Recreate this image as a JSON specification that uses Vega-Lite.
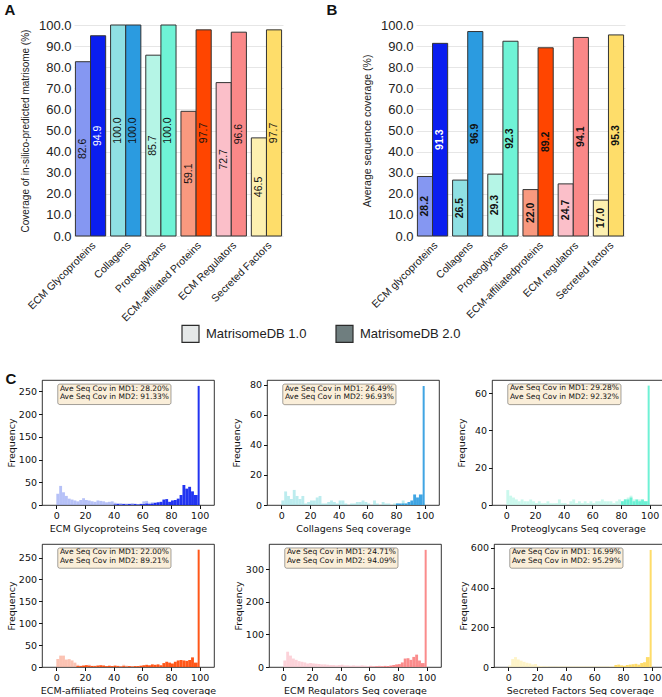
{
"$schema":"https://vega.github.io/schema/vega-lite/v6.json",
"background":"white",
"padding":{"left":4,"top":3,"right":2,"bottom":0},
"spacing":0,
"resolve":{"scale":{"fill":"independent","color":"independent"}},
"config":{"view":{"stroke":null}},
"datasets":{
"A":[
{"cat":"ECM Glycoproteins","ver":"MatrisomeDB 1.0","key":"g1","v":82.6},
{"cat":"ECM Glycoproteins","ver":"MatrisomeDB 2.0","key":"g2","v":94.9},
{"cat":"Collagens","ver":"MatrisomeDB 1.0","key":"c1","v":100.0},
{"cat":"Collagens","ver":"MatrisomeDB 2.0","key":"c2","v":100.0},
{"cat":"Proteoglycans","ver":"MatrisomeDB 1.0","key":"p1","v":85.7},
{"cat":"Proteoglycans","ver":"MatrisomeDB 2.0","key":"p2","v":100.0},
{"cat":"ECM-affiliated Proteins","ver":"MatrisomeDB 1.0","key":"a1","v":59.1},
{"cat":"ECM-affiliated Proteins","ver":"MatrisomeDB 2.0","key":"a2","v":97.7},
{"cat":"ECM Regulators","ver":"MatrisomeDB 1.0","key":"r1","v":72.7},
{"cat":"ECM Regulators","ver":"MatrisomeDB 2.0","key":"r2","v":96.6},
{"cat":"Secreted Factors","ver":"MatrisomeDB 1.0","key":"s1","v":46.5},
{"cat":"Secreted Factors","ver":"MatrisomeDB 2.0","key":"s2","v":97.7}
],
"B":[
{"cat":"ECM glycoproteins","ver":"MatrisomeDB 1.0","key":"g1","v":28.2},
{"cat":"ECM glycoproteins","ver":"MatrisomeDB 2.0","key":"g2","v":91.3},
{"cat":"Collagens","ver":"MatrisomeDB 1.0","key":"c1","v":26.5},
{"cat":"Collagens","ver":"MatrisomeDB 2.0","key":"c2","v":96.9},
{"cat":"Proteoglycans","ver":"MatrisomeDB 1.0","key":"p1","v":29.3},
{"cat":"Proteoglycans","ver":"MatrisomeDB 2.0","key":"p2","v":92.3},
{"cat":"ECM-affiliatedproteins","ver":"MatrisomeDB 1.0","key":"a1","v":22.0},
{"cat":"ECM-affiliatedproteins","ver":"MatrisomeDB 2.0","key":"a2","v":89.2},
{"cat":"ECM regulators","ver":"MatrisomeDB 1.0","key":"r1","v":24.7},
{"cat":"ECM regulators","ver":"MatrisomeDB 2.0","key":"r2","v":94.1},
{"cat":"Secreted factors","ver":"MatrisomeDB 1.0","key":"s1","v":17.0},
{"cat":"Secreted factors","ver":"MatrisomeDB 2.0","key":"s2","v":95.3}
],
"notes":[
{"p":1,"t":"Ave Seq Cov in MD1: 28.20%\nAve Seq Cov in MD2: 91.33%"},
{"p":2,"t":"Ave Seq Cov in MD1: 26.49%\nAve Seq Cov in MD2: 96.93%"},
{"p":3,"t":"Ave Seq Cov in MD1: 29.28%\nAve Seq Cov in MD2: 92.32%"},
{"p":4,"t":"Ave Seq Cov in MD1: 22.00%\nAve Seq Cov in MD2: 89.21%"},
{"p":5,"t":"Ave Seq Cov in MD1: 24.71%\nAve Seq Cov in MD2: 94.09%"},
{"p":6,"t":"Ave Seq Cov in MD1: 16.99%\nAve Seq Cov in MD2: 95.29%"}
],
"hist":[
{"p":1,"b":0,"e":2,"m1":25,"m2":0},{"p":1,"b":2,"e":4,"m1":42,"m2":0},{"p":1,"b":4,"e":6,"m1":28,"m2":0},{"p":1,"b":6,"e":8,"m1":20,"m2":0},{"p":1,"b":8,"e":10,"m1":14,"m2":0},{"p":1,"b":10,"e":12,"m1":12,"m2":0},{"p":1,"b":12,"e":14,"m1":10,"m2":0},{"p":1,"b":14,"e":16,"m1":8,"m2":0},{"p":1,"b":16,"e":18,"m1":11,"m2":0},{"p":1,"b":18,"e":20,"m1":15,"m2":0},{"p":1,"b":20,"e":22,"m1":11,"m2":0},{"p":1,"b":22,"e":24,"m1":10,"m2":0},{"p":1,"b":24,"e":26,"m1":8,"m2":0},{"p":1,"b":26,"e":28,"m1":7,"m2":0},{"p":1,"b":28,"e":30,"m1":10,"m2":0},{"p":1,"b":30,"e":32,"m1":9,"m2":0},{"p":1,"b":32,"e":34,"m1":8,"m2":0},{"p":1,"b":34,"e":36,"m1":6,"m2":0},{"p":1,"b":36,"e":38,"m1":7,"m2":0},{"p":1,"b":38,"e":40,"m1":8,"m2":0},{"p":1,"b":40,"e":42,"m1":5,"m2":1},{"p":1,"b":42,"e":44,"m1":4,"m2":2},{"p":1,"b":44,"e":46,"m1":4,"m2":1},{"p":1,"b":46,"e":48,"m1":3,"m2":2},{"p":1,"b":48,"e":50,"m1":3,"m2":1},{"p":1,"b":50,"e":52,"m1":3,"m2":2},{"p":1,"b":52,"e":54,"m1":4,"m2":1},{"p":1,"b":54,"e":56,"m1":3,"m2":2},{"p":1,"b":56,"e":58,"m1":2,"m2":1},{"p":1,"b":58,"e":60,"m1":3,"m2":2},{"p":1,"b":60,"e":62,"m1":8,"m2":2},{"p":1,"b":62,"e":64,"m1":9,"m2":3},{"p":1,"b":64,"e":66,"m1":5,"m2":2},{"p":1,"b":66,"e":68,"m1":6,"m2":3},{"p":1,"b":68,"e":70,"m1":4,"m2":5},{"p":1,"b":70,"e":72,"m1":4,"m2":6},{"p":1,"b":72,"e":74,"m1":3,"m2":7},{"p":1,"b":74,"e":76,"m1":3,"m2":12},{"p":1,"b":76,"e":78,"m1":3,"m2":13},{"p":1,"b":78,"e":80,"m1":2,"m2":7},{"p":1,"b":80,"e":82,"m1":2,"m2":10},{"p":1,"b":82,"e":84,"m1":2,"m2":11},{"p":1,"b":84,"e":86,"m1":2,"m2":14},{"p":1,"b":86,"e":88,"m1":2,"m2":22},{"p":1,"b":88,"e":90,"m1":2,"m2":44},{"p":1,"b":90,"e":92,"m1":2,"m2":36},{"p":1,"b":92,"e":94,"m1":2,"m2":40},{"p":1,"b":94,"e":96,"m1":2,"m2":30},{"p":1,"b":96,"e":98.6,"m1":2,"m2":22},{"p":1,"b":98.6,"e":100,"m1":3,"m2":262},
{"p":2,"b":0,"e":2,"m1":3,"m2":0},{"p":2,"b":2,"e":4,"m1":9,"m2":0},{"p":2,"b":4,"e":6,"m1":6,"m2":0},{"p":2,"b":6,"e":8,"m1":4,"m2":0},{"p":2,"b":8,"e":10,"m1":10,"m2":0},{"p":2,"b":10,"e":12,"m1":6,"m2":0},{"p":2,"b":12,"e":14,"m1":4,"m2":0},{"p":2,"b":14,"e":16,"m1":6,"m2":0},{"p":2,"b":16,"e":18,"m1":1,"m2":0},{"p":2,"b":18,"e":20,"m1":2,"m2":0},{"p":2,"b":20,"e":22,"m1":3,"m2":0},{"p":2,"b":22,"e":24,"m1":3,"m2":0},{"p":2,"b":24,"e":26,"m1":5,"m2":0},{"p":2,"b":26,"e":28,"m1":6,"m2":0},{"p":2,"b":28,"e":30,"m1":1,"m2":0},{"p":2,"b":30,"e":32,"m1":1,"m2":0},{"p":2,"b":32,"e":34,"m1":2,"m2":0},{"p":2,"b":34,"e":36,"m1":3,"m2":0},{"p":2,"b":36,"e":38,"m1":2,"m2":0},{"p":2,"b":38,"e":40,"m1":1,"m2":0},{"p":2,"b":40,"e":42,"m1":3,"m2":0},{"p":2,"b":42,"e":44,"m1":3,"m2":0},{"p":2,"b":44,"e":46,"m1":1,"m2":0},{"p":2,"b":48,"e":50,"m1":1,"m2":0},{"p":2,"b":50,"e":52,"m1":1,"m2":0},{"p":2,"b":52,"e":54,"m1":2,"m2":0},{"p":2,"b":54,"e":56,"m1":2,"m2":0},{"p":2,"b":56,"e":58,"m1":3,"m2":0},{"p":2,"b":58,"e":60,"m1":2,"m2":0},{"p":2,"b":60,"e":62,"m1":1,"m2":0},{"p":2,"b":64,"e":66,"m1":3,"m2":0},{"p":2,"b":66,"e":68,"m1":1,"m2":0},{"p":2,"b":70,"e":72,"m1":2,"m2":0},{"p":2,"b":72,"e":74,"m1":1,"m2":0},{"p":2,"b":74,"e":76,"m1":1,"m2":0},{"p":2,"b":78,"e":80,"m1":1,"m2":0},{"p":2,"b":80,"e":82,"m1":1,"m2":1},{"p":2,"b":82,"e":84,"m1":0,"m2":1},{"p":2,"b":84,"e":86,"m1":3,"m2":1},{"p":2,"b":86,"e":88,"m1":1,"m2":1},{"p":2,"b":88,"e":90,"m1":0,"m2":2},{"p":2,"b":90,"e":92,"m1":1,"m2":3},{"p":2,"b":92,"e":94,"m1":1,"m2":7},{"p":2,"b":94,"e":96,"m1":0,"m2":5},{"p":2,"b":96,"e":98.6,"m1":0,"m2":7},{"p":2,"b":98.6,"e":100,"m1":1,"m2":79},
{"p":3,"b":0,"e":2,"m1":8,"m2":0},{"p":3,"b":2,"e":4,"m1":5,"m2":0},{"p":3,"b":4,"e":6,"m1":4,"m2":0},{"p":3,"b":6,"e":8,"m1":3,"m2":0},{"p":3,"b":8,"e":10,"m1":2,"m2":0},{"p":3,"b":10,"e":12,"m1":3,"m2":0},{"p":3,"b":12,"e":14,"m1":2,"m2":0},{"p":3,"b":14,"e":16,"m1":2,"m2":0},{"p":3,"b":16,"e":18,"m1":3,"m2":0},{"p":3,"b":18,"e":20,"m1":2,"m2":0},{"p":3,"b":20,"e":22,"m1":1,"m2":0},{"p":3,"b":22,"e":24,"m1":2,"m2":0},{"p":3,"b":24,"e":26,"m1":1,"m2":0},{"p":3,"b":26,"e":28,"m1":1,"m2":0},{"p":3,"b":28,"e":30,"m1":2,"m2":0},{"p":3,"b":30,"e":32,"m1":1,"m2":0},{"p":3,"b":32,"e":34,"m1":1,"m2":0},{"p":3,"b":34,"e":36,"m1":1,"m2":0},{"p":3,"b":36,"e":38,"m1":3,"m2":0},{"p":3,"b":38,"e":40,"m1":1,"m2":0},{"p":3,"b":40,"e":42,"m1":1,"m2":0},{"p":3,"b":44,"e":46,"m1":2,"m2":0},{"p":3,"b":46,"e":48,"m1":3,"m2":0},{"p":3,"b":48,"e":50,"m1":1,"m2":0},{"p":3,"b":50,"e":52,"m1":2,"m2":0},{"p":3,"b":52,"e":54,"m1":1,"m2":0},{"p":3,"b":54,"e":56,"m1":2,"m2":0},{"p":3,"b":56,"e":58,"m1":1,"m2":0},{"p":3,"b":58,"e":60,"m1":2,"m2":0},{"p":3,"b":60,"e":62,"m1":1,"m2":0},{"p":3,"b":62,"e":64,"m1":2,"m2":0},{"p":3,"b":64,"e":66,"m1":2,"m2":0},{"p":3,"b":66,"e":68,"m1":3,"m2":0},{"p":3,"b":68,"e":70,"m1":2,"m2":0},{"p":3,"b":70,"e":72,"m1":2,"m2":0},{"p":3,"b":72,"e":74,"m1":2,"m2":0},{"p":3,"b":74,"e":76,"m1":1,"m2":0},{"p":3,"b":76,"e":78,"m1":2,"m2":0},{"p":3,"b":78,"e":80,"m1":3,"m2":0},{"p":3,"b":80,"e":82,"m1":2,"m2":2},{"p":3,"b":82,"e":84,"m1":3,"m2":3},{"p":3,"b":84,"e":86,"m1":4,"m2":3},{"p":3,"b":86,"e":88,"m1":5,"m2":4},{"p":3,"b":88,"e":90,"m1":3,"m2":2},{"p":3,"b":90,"e":92,"m1":2,"m2":3},{"p":3,"b":92,"e":94,"m1":3,"m2":2},{"p":3,"b":94,"e":96,"m1":2,"m2":3},{"p":3,"b":96,"e":98.6,"m1":2,"m2":2},{"p":3,"b":98.6,"e":100,"m1":1,"m2":64},
{"p":4,"b":0,"e":2,"m1":18,"m2":0},{"p":4,"b":2,"e":4,"m1":26,"m2":0},{"p":4,"b":4,"e":6,"m1":26,"m2":0},{"p":4,"b":6,"e":8,"m1":17,"m2":0},{"p":4,"b":8,"e":10,"m1":18,"m2":0},{"p":4,"b":10,"e":12,"m1":15,"m2":0},{"p":4,"b":12,"e":14,"m1":10,"m2":0},{"p":4,"b":14,"e":16,"m1":5,"m2":2},{"p":4,"b":16,"e":18,"m1":3,"m2":2},{"p":4,"b":18,"e":20,"m1":4,"m2":3},{"p":4,"b":20,"e":22,"m1":4,"m2":4},{"p":4,"b":22,"e":24,"m1":5,"m2":3},{"p":4,"b":24,"e":26,"m1":3,"m2":2},{"p":4,"b":26,"e":28,"m1":3,"m2":2},{"p":4,"b":28,"e":30,"m1":4,"m2":3},{"p":4,"b":30,"e":32,"m1":3,"m2":4},{"p":4,"b":32,"e":34,"m1":4,"m2":3},{"p":4,"b":34,"e":36,"m1":2,"m2":2},{"p":4,"b":36,"e":38,"m1":2,"m2":3},{"p":4,"b":38,"e":40,"m1":2,"m2":2},{"p":4,"b":40,"e":42,"m1":3,"m2":3},{"p":4,"b":42,"e":44,"m1":3,"m2":2},{"p":4,"b":44,"e":46,"m1":2,"m2":1},{"p":4,"b":46,"e":48,"m1":5,"m2":2},{"p":4,"b":48,"e":50,"m1":3,"m2":1},{"p":4,"b":50,"e":52,"m1":2,"m2":2},{"p":4,"b":52,"e":54,"m1":2,"m2":1},{"p":4,"b":54,"e":56,"m1":2,"m2":2},{"p":4,"b":56,"e":58,"m1":2,"m2":2},{"p":4,"b":58,"e":60,"m1":2,"m2":3},{"p":4,"b":60,"e":62,"m1":2,"m2":4},{"p":4,"b":62,"e":64,"m1":2,"m2":5},{"p":4,"b":64,"e":66,"m1":2,"m2":4},{"p":4,"b":66,"e":68,"m1":2,"m2":6},{"p":4,"b":68,"e":70,"m1":2,"m2":5},{"p":4,"b":70,"e":72,"m1":2,"m2":6},{"p":4,"b":72,"e":74,"m1":2,"m2":4},{"p":4,"b":74,"e":76,"m1":2,"m2":9},{"p":4,"b":76,"e":78,"m1":2,"m2":12},{"p":4,"b":78,"e":80,"m1":2,"m2":10},{"p":4,"b":80,"e":82,"m1":2,"m2":8},{"p":4,"b":82,"e":84,"m1":2,"m2":12},{"p":4,"b":84,"e":86,"m1":2,"m2":15},{"p":4,"b":86,"e":88,"m1":2,"m2":16},{"p":4,"b":88,"e":90,"m1":2,"m2":15},{"p":4,"b":90,"e":92,"m1":2,"m2":14},{"p":4,"b":92,"e":94,"m1":2,"m2":16},{"p":4,"b":94,"e":96,"m1":2,"m2":22},{"p":4,"b":96,"e":98.6,"m1":2,"m2":10},{"p":4,"b":98.6,"e":100,"m1":2,"m2":268},
{"p":5,"b":0,"e":2,"m1":20,"m2":0},{"p":5,"b":2,"e":4,"m1":47,"m2":0},{"p":5,"b":4,"e":6,"m1":35,"m2":0},{"p":5,"b":6,"e":8,"m1":26,"m2":0},{"p":5,"b":8,"e":10,"m1":22,"m2":0},{"p":5,"b":10,"e":12,"m1":18,"m2":0},{"p":5,"b":12,"e":14,"m1":16,"m2":0},{"p":5,"b":14,"e":16,"m1":14,"m2":0},{"p":5,"b":16,"e":18,"m1":11,"m2":0},{"p":5,"b":18,"e":20,"m1":12,"m2":0},{"p":5,"b":20,"e":22,"m1":11,"m2":0},{"p":5,"b":22,"e":24,"m1":10,"m2":0},{"p":5,"b":24,"e":26,"m1":9,"m2":0},{"p":5,"b":26,"e":28,"m1":8,"m2":0},{"p":5,"b":28,"e":30,"m1":8,"m2":0},{"p":5,"b":30,"e":32,"m1":7,"m2":0},{"p":5,"b":32,"e":34,"m1":6,"m2":0},{"p":5,"b":34,"e":36,"m1":6,"m2":0},{"p":5,"b":36,"e":38,"m1":5,"m2":0},{"p":5,"b":38,"e":40,"m1":6,"m2":0},{"p":5,"b":40,"e":42,"m1":7,"m2":0},{"p":5,"b":42,"e":44,"m1":5,"m2":0},{"p":5,"b":44,"e":46,"m1":5,"m2":0},{"p":5,"b":46,"e":48,"m1":4,"m2":0},{"p":5,"b":48,"e":50,"m1":5,"m2":0},{"p":5,"b":50,"e":52,"m1":4,"m2":0},{"p":5,"b":52,"e":54,"m1":4,"m2":0},{"p":5,"b":54,"e":56,"m1":5,"m2":0},{"p":5,"b":56,"e":58,"m1":4,"m2":0},{"p":5,"b":58,"e":60,"m1":3,"m2":0},{"p":5,"b":60,"e":62,"m1":4,"m2":1},{"p":5,"b":62,"e":64,"m1":3,"m2":1},{"p":5,"b":64,"e":66,"m1":3,"m2":2},{"p":5,"b":66,"e":68,"m1":4,"m2":2},{"p":5,"b":68,"e":70,"m1":3,"m2":2},{"p":5,"b":70,"e":72,"m1":4,"m2":3},{"p":5,"b":72,"e":74,"m1":3,"m2":3},{"p":5,"b":74,"e":76,"m1":5,"m2":4},{"p":5,"b":76,"e":78,"m1":6,"m2":6},{"p":5,"b":78,"e":80,"m1":5,"m2":8},{"p":5,"b":80,"e":82,"m1":5,"m2":9},{"p":5,"b":82,"e":84,"m1":5,"m2":14},{"p":5,"b":84,"e":86,"m1":5,"m2":26},{"p":5,"b":86,"e":88,"m1":5,"m2":27},{"p":5,"b":88,"e":90,"m1":5,"m2":22},{"p":5,"b":90,"e":92,"m1":5,"m2":31},{"p":5,"b":92,"e":94,"m1":5,"m2":38},{"p":5,"b":94,"e":96,"m1":5,"m2":20},{"p":5,"b":96,"e":98.6,"m1":5,"m2":12},{"p":5,"b":98.6,"e":100,"m1":3,"m2":360},
{"p":6,"b":0,"e":2,"m1":8,"m2":0},{"p":6,"b":2,"e":4,"m1":40,"m2":0},{"p":6,"b":4,"e":6,"m1":50,"m2":0},{"p":6,"b":6,"e":8,"m1":38,"m2":0},{"p":6,"b":8,"e":10,"m1":32,"m2":0},{"p":6,"b":10,"e":12,"m1":26,"m2":0},{"p":6,"b":12,"e":14,"m1":22,"m2":0},{"p":6,"b":14,"e":16,"m1":18,"m2":0},{"p":6,"b":16,"e":18,"m1":12,"m2":0},{"p":6,"b":18,"e":20,"m1":15,"m2":0},{"p":6,"b":20,"e":22,"m1":6,"m2":0},{"p":6,"b":22,"e":24,"m1":5,"m2":0},{"p":6,"b":24,"e":26,"m1":4,"m2":0},{"p":6,"b":26,"e":28,"m1":4,"m2":0},{"p":6,"b":28,"e":30,"m1":3,"m2":0},{"p":6,"b":30,"e":32,"m1":3,"m2":0},{"p":6,"b":32,"e":34,"m1":3,"m2":0},{"p":6,"b":34,"e":36,"m1":3,"m2":0},{"p":6,"b":36,"e":38,"m1":3,"m2":0},{"p":6,"b":38,"e":40,"m1":3,"m2":0},{"p":6,"b":40,"e":42,"m1":3,"m2":0},{"p":6,"b":42,"e":44,"m1":3,"m2":0},{"p":6,"b":44,"e":46,"m1":3,"m2":0},{"p":6,"b":46,"e":48,"m1":3,"m2":0},{"p":6,"b":48,"e":50,"m1":3,"m2":0},{"p":6,"b":50,"e":52,"m1":3,"m2":0},{"p":6,"b":52,"e":54,"m1":3,"m2":0},{"p":6,"b":54,"e":56,"m1":3,"m2":0},{"p":6,"b":56,"e":58,"m1":3,"m2":0},{"p":6,"b":58,"e":60,"m1":3,"m2":0},{"p":6,"b":60,"e":62,"m1":3,"m2":0},{"p":6,"b":62,"e":64,"m1":3,"m2":0},{"p":6,"b":64,"e":66,"m1":3,"m2":0},{"p":6,"b":66,"e":68,"m1":3,"m2":0},{"p":6,"b":68,"e":70,"m1":3,"m2":0},{"p":6,"b":70,"e":72,"m1":4,"m2":0},{"p":6,"b":72,"e":74,"m1":4,"m2":0},{"p":6,"b":74,"e":76,"m1":4,"m2":10},{"p":6,"b":76,"e":78,"m1":4,"m2":12},{"p":6,"b":78,"e":80,"m1":4,"m2":8},{"p":6,"b":80,"e":82,"m1":3,"m2":6},{"p":6,"b":82,"e":84,"m1":3,"m2":10},{"p":6,"b":84,"e":86,"m1":3,"m2":12},{"p":6,"b":86,"e":88,"m1":3,"m2":14},{"p":6,"b":88,"e":90,"m1":3,"m2":16},{"p":6,"b":90,"e":92,"m1":3,"m2":12},{"p":6,"b":92,"e":94,"m1":3,"m2":20},{"p":6,"b":94,"e":96,"m1":3,"m2":24},{"p":6,"b":96,"e":98.6,"m1":3,"m2":50},{"p":6,"b":98.6,"e":100,"m1":3,"m2":590}
]
},
"vconcat":[
{"spacing":-42,"hconcat":[
{"width":1,"height":1,"data":{"values":[{"ver":"x"}]},"mark":{"type":"point","opacity":0}},
{"spacing":43,"hconcat":[
{"width":209,"height":211,"data":{"name":"A"},
"title":{"text":"A","anchor":"start","font":"Liberation Sans","fontSize":15,"fontWeight":"bold","color":"#111","dx":-16,"offset":1},
"resolve":{"scale":{"y":"independent"},"axis":{"y":"independent"}},
"encoding":{
"x":{"field":"cat","type":"nominal","sort":["ECM Glycoproteins","Collagens","Proteoglycans","ECM-affiliated Proteins","ECM Regulators","Secreted Factors"],"scale":{"paddingInner":0.14,"paddingOuter":0.04},"axis":{"title":null,"labelAngle":-45,"labelFont":"Liberation Sans","labelFontSize":10.5,"labelColor":"#222","ticks":false,"domain":false,"labelPadding":4}},
"xOffset":{"field":"ver","type":"nominal","scale":{"paddingInner":0,"paddingOuter":0}}
},
"layer":[
{"mark":{"type":"bar","stroke":"#333","strokeWidth":1},"encoding":{
"y":{"field":"v","type":"quantitative","scale":{"domain":[0,100],"nice":false},"axis":{"title":"Coverage of in-silico-predicted matrisome (%)","values":[0,10,20,30,40,50,60,70,80,90,100],"tickCount":20,"format":".1f","labelFont":"Liberation Sans","labelFontSize":13,"labelColor":"#222","ticks":false,"domain":false,"labelPadding":3,"gridColor":"#e6e6e6","titleFont":"Liberation Sans","titleFontSize":10,"titleFontWeight":"normal","titleColor":"#222","titlePadding":8}},
"fill":{"field":"key","type":"nominal","scale":{"domain":["g1","g2","c1","c2","p1","p2","a1","a2","r1","r2","s1","s2"],"range":["#8597f2","#0a1ef0","#8fe0e3","#2b9be0","#b5f5e6","#6ff3d6","#f9997f","#ff4500","#fbbfc9","#fa8888","#fdf0b0","#fedd6a"]},"legend":null}}},
{"mark":{"type":"text","angle":270,"fontSize":10.5,"font":"Liberation Sans","baseline":"middle","align":"center"},"encoding":{
"y":{"field":"v","type":"quantitative","scale":{"domain":[0,200],"nice":false},"axis":null},
"text":{"field":"v","type":"quantitative","format":".1f"},"color":{"condition":{"test":"datum.key==='g2'","value":"white"},"value":"#111"}}}
]},
{"width":209,"height":211,"data":{"name":"B"},
"title":{"text":"B","anchor":"start","font":"Liberation Sans","fontSize":15,"fontWeight":"bold","color":"#111","dx":-36,"offset":1},
"resolve":{"scale":{"y":"independent"},"axis":{"y":"independent"}},
"encoding":{
"x":{"field":"cat","type":"nominal","sort":["ECM glycoproteins","Collagens","Proteoglycans","ECM-affiliatedproteins","ECM regulators","Secreted factors"],"scale":{"paddingInner":0.14,"paddingOuter":0.04},"axis":{"title":null,"labelAngle":-45,"labelFont":"Liberation Sans","labelFontSize":10.5,"labelColor":"#222","ticks":false,"domain":false,"labelPadding":4}},
"xOffset":{"field":"ver","type":"nominal","scale":{"paddingInner":0,"paddingOuter":0}}
},
"layer":[
{"mark":{"type":"bar","stroke":"#333","strokeWidth":1},"encoding":{
"y":{"field":"v","type":"quantitative","scale":{"domain":[0,100],"nice":false},"axis":{"title":"Average sequence coverage (%)","values":[0,10,20,30,40,50,60,70,80,90,100],"tickCount":20,"format":".1f","labelFont":"Liberation Sans","labelFontSize":13,"labelColor":"#222","ticks":false,"domain":false,"labelPadding":3,"gridColor":"#e6e6e6","titleFont":"Liberation Sans","titleFontSize":10.5,"titleFontWeight":"normal","titleColor":"#222","titlePadding":8}},
"fill":{"field":"key","type":"nominal","scale":{"domain":["g1","g2","c1","c2","p1","p2","a1","a2","r1","r2","s1","s2"],"range":["#8597f2","#0a1ef0","#8fe0e3","#2b9be0","#b5f5e6","#6ff3d6","#f9997f","#ff4500","#fbbfc9","#fa8888","#fdf0b0","#fedd6a"]},"legend":null}}},
{"mark":{"type":"text","angle":270,"fontSize":10.5,"fontWeight":"bold","font":"Liberation Sans","baseline":"middle","align":"center"},"encoding":{
"y":{"field":"v","type":"quantitative","scale":{"domain":[0,200],"nice":false},"axis":null},
"text":{"field":"v","type":"quantitative","format":".1f"},"color":{"condition":{"test":"datum.key==='g2'","value":"white"},"value":"#111"}}}
]}
]}
]},
{"width":600,"height":43,
"data":{"values":[{"ver":"MatrisomeDB 1.0"},{"ver":"MatrisomeDB 2.0"}]},
"mark":{"type":"square","opacity":0,"filled":true},
"encoding":{"color":{"field":"ver","type":"nominal","scale":{"range":["#e5e8e8","#6f7e7f"]},"legend":{"orient":"none","legendX":139,"legendY":-5,"direction":"horizontal","title":null,"symbolType":"square","symbolSize":289,"symbolOpacity":1,"symbolStrokeColor":"#2b2b2b","symbolStrokeWidth":1.2,"labelFont":"Liberation Sans","labelFontSize":13,"labelColor":"#222","labelOffset":6,"columnPadding":26}}}
},
{"title":{"text":"C","anchor":"start","font":"Liberation Sans","fontSize":15,"fontWeight":"bold","color":"#111","offset":-8},
"spacing":9,
"vconcat":[
{"spacing":15,"hconcat":[
{"width":172,"height":125,"view":{"stroke":"black","strokeWidth":0.8},
"layer":[
{"data":{"name":"hist"},"transform":[{"filter":"datum.p===1"},{"fold":["m1","m2"],"as":["s","c"]}],
"mark":{"type":"rect"},
"encoding":{"x":{"field":"b","type":"quantitative","scale":{"domain":[-10,110],"nice":false,"zero":false},"axis":{"title":"ECM Glycoproteins Seq coverage","values":[0,20,40,60,80,100],"tickCount":20,"format":"d","labelFont":"DejaVu Sans","labelFontSize":9.5,"titleFont":"DejaVu Sans","titleFontSize":9.5,"titleFontWeight":"normal","labelColor":"#111","titleColor":"#111","tickColor":"#111","tickSize":3.5,"labelPadding":2,"titlePadding":3,"domain":false,"grid":false,"labelOverlap":false}},"x2":{"field":"e"},
"y":{"field":"c","type":"quantitative","scale":{"domain":[0,275],"nice":false},"axis":{"title":"Frequency","values":[0,50,100,150,200,250],"tickCount":20,"labelFont":"DejaVu Sans","labelFontSize":9.5,"titleFont":"DejaVu Sans","titleFontSize":9.5,"titleFontWeight":"normal","labelColor":"#111","titleColor":"#111","tickColor":"#111","tickSize":3.5,"labelPadding":2,"titlePadding":4,"domain":false,"grid":false,"labelOverlap":false,"minExtent":22,"maxExtent":22}},"y2":{"datum":0},
"color":{"condition":{"test":"datum.s==='m1'","value":"#8597f2"},"value":"#0a1ef0"},
"opacity":{"condition":{"test":"datum.s==='m1'","value":0.6},"value":0.9}}},
{"data":{"name":"notes"},"transform":[{"filter":"datum.p===1"}],"mark":{"type":"rect","fill":"#f5deb3","fillOpacity":0.5,"stroke":"#000","strokeOpacity":0.45,"strokeWidth":0.8,"cornerRadius":2},"encoding":{"x":{"datum":1},"x2":{"datum":80},"y":{"datum":266},"y2":{"datum":221}}},
{"data":{"name":"notes"},"transform":[{"filter":"datum.p===1"}],"mark":{"type":"text","font":"DejaVu Sans","fontSize":7.5,"align":"left","baseline":"top","lineHeight":8.8,"lineBreak":"\n","color":"#111"},"encoding":{"x":{"datum":2.5},"y":{"datum":265},"text":{"field":"t","type":"nominal"}}}
]},
{"width":172,"height":125,"view":{"stroke":"black","strokeWidth":0.8},
"layer":[
{"data":{"name":"hist"},"transform":[{"filter":"datum.p===2"},{"fold":["m1","m2"],"as":["s","c"]}],
"mark":{"type":"rect"},
"encoding":{"x":{"field":"b","type":"quantitative","scale":{"domain":[-10,110],"nice":false,"zero":false},"axis":{"title":"Collagens Seq coverage","values":[0,20,40,60,80,100],"tickCount":20,"format":"d","labelFont":"DejaVu Sans","labelFontSize":9.5,"titleFont":"DejaVu Sans","titleFontSize":9.5,"titleFontWeight":"normal","labelColor":"#111","titleColor":"#111","tickColor":"#111","tickSize":3.5,"labelPadding":2,"titlePadding":3,"domain":false,"grid":false,"labelOverlap":false}},"x2":{"field":"e"},
"y":{"field":"c","type":"quantitative","scale":{"domain":[0,83],"nice":false},"axis":{"title":"Frequency","values":[0,20,40,60,80],"tickCount":20,"labelFont":"DejaVu Sans","labelFontSize":9.5,"titleFont":"DejaVu Sans","titleFontSize":9.5,"titleFontWeight":"normal","labelColor":"#111","titleColor":"#111","tickColor":"#111","tickSize":3.5,"labelPadding":2,"titlePadding":4,"domain":false,"grid":false,"labelOverlap":false,"minExtent":22,"maxExtent":22}},"y2":{"datum":0},
"color":{"condition":{"test":"datum.s==='m1'","value":"#8fe0e3"},"value":"#2b9be0"},
"opacity":{"condition":{"test":"datum.s==='m1'","value":0.6},"value":0.9}}},
{"data":{"name":"notes"},"transform":[{"filter":"datum.p===2"}],"mark":{"type":"rect","fill":"#f5deb3","fillOpacity":0.5,"stroke":"#000","strokeOpacity":0.45,"strokeWidth":0.8,"cornerRadius":2},"encoding":{"x":{"datum":1},"x2":{"datum":80},"y":{"datum":80.3},"y2":{"datum":66.6}}},
{"data":{"name":"notes"},"transform":[{"filter":"datum.p===2"}],"mark":{"type":"text","font":"DejaVu Sans","fontSize":7.5,"align":"left","baseline":"top","lineHeight":8.8,"lineBreak":"\n","color":"#111"},"encoding":{"x":{"datum":2.5},"y":{"datum":80.0},"text":{"field":"t","type":"nominal"}}}
]},
{"width":172,"height":125,"view":{"stroke":"black","strokeWidth":0.8},
"layer":[
{"data":{"name":"hist"},"transform":[{"filter":"datum.p===3"},{"fold":["m1","m2"],"as":["s","c"]}],
"mark":{"type":"rect"},
"encoding":{"x":{"field":"b","type":"quantitative","scale":{"domain":[-10,110],"nice":false,"zero":false},"axis":{"title":"Proteoglycans Seq coverage","values":[0,20,40,60,80,100],"tickCount":20,"format":"d","labelFont":"DejaVu Sans","labelFontSize":9.5,"titleFont":"DejaVu Sans","titleFontSize":9.5,"titleFontWeight":"normal","labelColor":"#111","titleColor":"#111","tickColor":"#111","tickSize":3.5,"labelPadding":2,"titlePadding":3,"domain":false,"grid":false,"labelOverlap":false}},"x2":{"field":"e"},
"y":{"field":"c","type":"quantitative","scale":{"domain":[0,67],"nice":false},"axis":{"title":"Frequency","values":[0,20,40,60],"tickCount":20,"labelFont":"DejaVu Sans","labelFontSize":9.5,"titleFont":"DejaVu Sans","titleFontSize":9.5,"titleFontWeight":"normal","labelColor":"#111","titleColor":"#111","tickColor":"#111","tickSize":3.5,"labelPadding":2,"titlePadding":4,"domain":false,"grid":false,"labelOverlap":false,"minExtent":22,"maxExtent":22}},"y2":{"datum":0},
"color":{"condition":{"test":"datum.s==='m1'","value":"#b5f5e6"},"value":"#5ff0d0"},
"opacity":{"condition":{"test":"datum.s==='m1'","value":0.7},"value":0.9}}},
{"data":{"name":"notes"},"transform":[{"filter":"datum.p===3"}],"mark":{"type":"rect","fill":"#f5deb3","fillOpacity":0.5,"stroke":"#000","strokeOpacity":0.45,"strokeWidth":0.8,"cornerRadius":2},"encoding":{"x":{"datum":1},"x2":{"datum":80},"y":{"datum":64.9},"y2":{"datum":53.8}}},
{"data":{"name":"notes"},"transform":[{"filter":"datum.p===3"}],"mark":{"type":"text","font":"DejaVu Sans","fontSize":7.5,"align":"left","baseline":"top","lineHeight":8.8,"lineBreak":"\n","color":"#111"},"encoding":{"x":{"datum":2.5},"y":{"datum":64.6},"text":{"field":"t","type":"nominal"}}}
]}
]},
{"spacing":15,"hconcat":[
{"width":172,"height":123,"view":{"stroke":"black","strokeWidth":0.8},
"layer":[
{"data":{"name":"hist"},"transform":[{"filter":"datum.p===4"},{"fold":["m1","m2"],"as":["s","c"]}],
"mark":{"type":"rect"},
"encoding":{"x":{"field":"b","type":"quantitative","scale":{"domain":[-10,110],"nice":false,"zero":false},"axis":{"title":"ECM-affiliated Proteins Seq coverage","values":[0,20,40,60,80,100],"tickCount":20,"format":"d","labelFont":"DejaVu Sans","labelFontSize":9.5,"titleFont":"DejaVu Sans","titleFontSize":9.5,"titleFontWeight":"normal","labelColor":"#111","titleColor":"#111","tickColor":"#111","tickSize":3.5,"labelPadding":2,"titlePadding":3,"domain":false,"grid":false,"labelOverlap":false}},"x2":{"field":"e"},
"y":{"field":"c","type":"quantitative","scale":{"domain":[0,281],"nice":false},"axis":{"title":"Frequency","values":[0,50,100,150,200,250],"tickCount":20,"labelFont":"DejaVu Sans","labelFontSize":9.5,"titleFont":"DejaVu Sans","titleFontSize":9.5,"titleFontWeight":"normal","labelColor":"#111","titleColor":"#111","tickColor":"#111","tickSize":3.5,"labelPadding":2,"titlePadding":4,"domain":false,"grid":false,"labelOverlap":false,"minExtent":22,"maxExtent":22}},"y2":{"datum":0},
"color":{"condition":{"test":"datum.s==='m1'","value":"#f9997f"},"value":"#ff4500"},
"opacity":{"condition":{"test":"datum.s==='m1'","value":0.6},"value":0.9}}},
{"data":{"name":"notes"},"transform":[{"filter":"datum.p===4"}],"mark":{"type":"rect","fill":"#f5deb3","fillOpacity":0.5,"stroke":"#000","strokeOpacity":0.45,"strokeWidth":0.8,"cornerRadius":2},"encoding":{"x":{"datum":1},"x2":{"datum":80},"y":{"datum":272},"y2":{"datum":225.6}}},
{"data":{"name":"notes"},"transform":[{"filter":"datum.p===4"}],"mark":{"type":"text","font":"DejaVu Sans","fontSize":7.5,"align":"left","baseline":"top","lineHeight":8.8,"lineBreak":"\n","color":"#111"},"encoding":{"x":{"datum":2.5},"y":{"datum":270.9},"text":{"field":"t","type":"nominal"}}}
]},
{"width":172,"height":123,"view":{"stroke":"black","strokeWidth":0.8},
"layer":[
{"data":{"name":"hist"},"transform":[{"filter":"datum.p===5"},{"fold":["m1","m2"],"as":["s","c"]}],
"mark":{"type":"rect"},
"encoding":{"x":{"field":"b","type":"quantitative","scale":{"domain":[-10,110],"nice":false,"zero":false},"axis":{"title":"ECM Regulators Seq coverage","values":[0,20,40,60,80,100],"tickCount":20,"format":"d","labelFont":"DejaVu Sans","labelFontSize":9.5,"titleFont":"DejaVu Sans","titleFontSize":9.5,"titleFontWeight":"normal","labelColor":"#111","titleColor":"#111","tickColor":"#111","tickSize":3.5,"labelPadding":2,"titlePadding":3,"domain":false,"grid":false,"labelOverlap":false}},"x2":{"field":"e"},
"y":{"field":"c","type":"quantitative","scale":{"domain":[0,378],"nice":false},"axis":{"title":"Frequency","values":[0,100,200,300],"tickCount":20,"labelFont":"DejaVu Sans","labelFontSize":9.5,"titleFont":"DejaVu Sans","titleFontSize":9.5,"titleFontWeight":"normal","labelColor":"#111","titleColor":"#111","tickColor":"#111","tickSize":3.5,"labelPadding":2,"titlePadding":4,"domain":false,"grid":false,"labelOverlap":false,"minExtent":22,"maxExtent":22}},"y2":{"datum":0},
"color":{"condition":{"test":"datum.s==='m1'","value":"#fbbfc9"},"value":"#fa8080"},
"opacity":{"condition":{"test":"datum.s==='m1'","value":0.7},"value":0.9}}},
{"data":{"name":"notes"},"transform":[{"filter":"datum.p===5"}],"mark":{"type":"rect","fill":"#f5deb3","fillOpacity":0.5,"stroke":"#000","strokeOpacity":0.45,"strokeWidth":0.8,"cornerRadius":2},"encoding":{"x":{"datum":1},"x2":{"datum":80},"y":{"datum":365.9},"y2":{"datum":303.5}}},
{"data":{"name":"notes"},"transform":[{"filter":"datum.p===5"}],"mark":{"type":"text","font":"DejaVu Sans","fontSize":7.5,"align":"left","baseline":"top","lineHeight":8.8,"lineBreak":"\n","color":"#111"},"encoding":{"x":{"datum":2.5},"y":{"datum":364.4},"text":{"field":"t","type":"nominal"}}}
]},
{"width":172,"height":123,"view":{"stroke":"black","strokeWidth":0.8},
"layer":[
{"data":{"name":"hist"},"transform":[{"filter":"datum.p===6"},{"fold":["m1","m2"],"as":["s","c"]}],
"mark":{"type":"rect"},
"encoding":{"x":{"field":"b","type":"quantitative","scale":{"domain":[-10,110],"nice":false,"zero":false},"axis":{"title":"Secreted Factors Seq coverage","values":[0,20,40,60,80,100],"tickCount":20,"format":"d","labelFont":"DejaVu Sans","labelFontSize":9.5,"titleFont":"DejaVu Sans","titleFontSize":9.5,"titleFontWeight":"normal","labelColor":"#111","titleColor":"#111","tickColor":"#111","tickSize":3.5,"labelPadding":2,"titlePadding":3,"domain":false,"grid":false,"labelOverlap":false}},"x2":{"field":"e"},
"y":{"field":"c","type":"quantitative","scale":{"domain":[0,620],"nice":false},"axis":{"title":"Frequency","values":[0,200,400,600],"tickCount":20,"labelFont":"DejaVu Sans","labelFontSize":9.5,"titleFont":"DejaVu Sans","titleFontSize":9.5,"titleFontWeight":"normal","labelColor":"#111","titleColor":"#111","tickColor":"#111","tickSize":3.5,"labelPadding":2,"titlePadding":4,"domain":false,"grid":false,"labelOverlap":false,"minExtent":22,"maxExtent":22}},"y2":{"datum":0},
"color":{"condition":{"test":"datum.s==='m1'","value":"#fdf0b0"},"value":"#fed85a"},
"opacity":{"condition":{"test":"datum.s==='m1'","value":0.7},"value":0.9}}},
{"data":{"name":"notes"},"transform":[{"filter":"datum.p===6"}],"mark":{"type":"rect","fill":"#f5deb3","fillOpacity":0.5,"stroke":"#000","strokeOpacity":0.45,"strokeWidth":0.8,"cornerRadius":2},"encoding":{"x":{"datum":1},"x2":{"datum":80},"y":{"datum":600},"y2":{"datum":497.9}}},
{"data":{"name":"notes"},"transform":[{"filter":"datum.p===6"}],"mark":{"type":"text","font":"DejaVu Sans","fontSize":7.5,"align":"left","baseline":"top","lineHeight":8.8,"lineBreak":"\n","color":"#111"},"encoding":{"x":{"datum":2.5},"y":{"datum":597.7},"text":{"field":"t","type":"nominal"}}}
]}
]}
]}
]
}
